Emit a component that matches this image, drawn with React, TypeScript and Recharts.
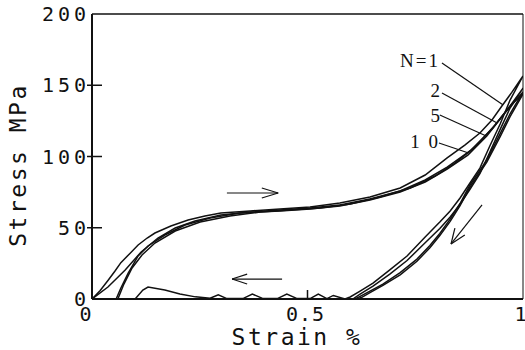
import React from 'react';
import { LineChart, Line, XAxis, YAxis, ReferenceLine } from 'recharts';

// loading branches (strain %, stress MPa)
const load1Strain = [0, 0.019, 0.037, 0.053, 0.067, 0.088, 0.107, 0.128, 0.146, 0.183, 0.223, 0.262, 0.299, 0.367, 0.436, 0.506, 0.575, 0.645, 0.715, 0.773, 0.824, 0.865, 0.9, 0.928, 0.951, 0.974, 1];
const load1Stress = [0, 6, 13, 19.5, 25.5, 32, 37.9, 42.8, 46.3, 51.2, 55.4, 58.2, 60.4, 61.8, 63.2, 64.6, 67.4, 71.6, 77.9, 87, 99, 108, 116.5, 125.6, 135.4, 145, 156.5];

const load2Strain = [0, 0.037, 0.077, 0.114, 0.153, 0.193, 0.239, 0.299, 0.367, 0.436, 0.506, 0.575, 0.645, 0.715, 0.773, 0.824, 0.877, 0.93, 0.97, 1];
const load2Stress = [0, 8.4, 20.4, 33, 42.8, 49.8, 54.7, 58.9, 61, 62.5, 63.9, 66, 70.2, 75.8, 83.5, 92.6, 103.9, 120, 135.4, 148];

const load5Strain = [0.056, 0.067, 0.084, 0.107, 0.13, 0.169, 0.216, 0.274, 0.343, 0.436, 0.506, 0.575, 0.645, 0.715, 0.773, 0.824, 0.872, 0.916, 0.958, 1];
const load5Stress = [0, 7.7, 18.2, 30.2, 37.2, 44.9, 51.9, 56.8, 60.4, 61.8, 63.2, 65.3, 69.5, 75.1, 82.1, 91.2, 101, 114.4, 130.5, 145.3];

const load10Strain = [0.06, 0.074, 0.093, 0.116, 0.146, 0.193, 0.251, 0.32, 0.39, 0.459, 0.529, 0.599, 0.668, 0.738, 0.796, 0.842, 0.889, 0.935, 0.974, 1];
const load10Stress = [0, 10.5, 21.8, 30.9, 39.3, 47.7, 54, 58.2, 61, 62.5, 63.9, 66.7, 71.6, 77.9, 86.3, 95.4, 106.7, 122.1, 136.8, 143.9];

// unloading branches
const unload1Strain = [1, 0.97, 0.947, 0.923, 0.9, 0.877, 0.854, 0.831, 0.807, 0.773, 0.731, 0.691, 0.652, 0.622, 0.599, 0.587, 0.56, 0.545, 0.525, 0.506, 0.476, 0.452, 0.43, 0.397, 0.372, 0.35, 0.313, 0.293, 0.274, 0.24, 0.204, 0.169, 0.13, 0.118, 0.1, 0];
const unload1Stress = [156.5, 139.6, 122.8, 107.4, 91.9, 81.4, 70.9, 61.8, 54, 43.5, 30.2, 20.4, 11.2, 5.6, 1.4, 0, 2.5, 0.3, 3.5, 0.3, 0.3, 3.5, 0.3, 0.3, 3.5, 0.3, 0.3, 3, 0.5, 1.5, 3.5, 6.3, 8.4, 6.3, 0, 0];

const unload2Strain = [1, 0.97, 0.947, 0.92, 0.9, 0.877, 0.854, 0.831, 0.807, 0.773, 0.731, 0.691, 0.652, 0.622, 0.605, 0];
const unload2Stress = [148, 134, 119, 101, 88, 77, 66.5, 57.5, 49.5, 39.5, 27, 17.5, 9, 3.5, 0, 0];

const unload5Strain = [1, 0.97, 0.947, 0.916, 0.877, 0.854, 0.831, 0.807, 0.784, 0.754, 0.715, 0.675, 0.645, 0.622, 0.61, 0.056];
const unload5Stress = [145.3, 130, 116, 97.5, 80, 67, 56, 46, 37.5, 28, 18.5, 10.5, 5.5, 1.8, 0, 0];

const unload10Strain = [1, 0.97, 0.947, 0.916, 0.877, 0.854, 0.831, 0.807, 0.784, 0.754, 0.715, 0.675, 0.645, 0.625, 0.615, 0.06];
const unload10Stress = [143.9, 128, 114, 96, 78.5, 65.5, 54.5, 44.5, 36, 26.5, 17, 9.5, 4.5, 1, 0, 0];

const xTicks = [0, 0.5, 1];
const yTicks = [0, 50, 100, 150, 200];

// annotation segments in data units
const leaders = [
  [{ x: 0.812, y: 165.6 }, { x: 0.954, y: 136.1 }],
  [{ x: 0.812, y: 144.6 }, { x: 0.94, y: 123.5 }],
  [{ x: 0.807, y: 129.1 }, { x: 0.916, y: 114.2 }],
  [{ x: 0.805, y: 109.5 }, { x: 0.872, y: 102.6 }],
];
const arrows = [
  [{ x: 0.313, y: 74.4 }, { x: 0.432, y: 74.4 }],
  [{ x: 0.394, y: 77.9 }, { x: 0.432, y: 74.4 }],
  [{ x: 0.394, y: 70.9 }, { x: 0.432, y: 74.4 }],
  [{ x: 0.441, y: 14 }, { x: 0.325, y: 14 }],
  [{ x: 0.36, y: 17.5 }, { x: 0.325, y: 14 }],
  [{ x: 0.36, y: 10.5 }, { x: 0.325, y: 14 }],
  [{ x: 0.905, y: 66 }, { x: 0.833, y: 38.6 }],
  [{ x: 0.842, y: 49.8 }, { x: 0.833, y: 38.6 }],
  [{ x: 0.865, y: 44.9 }, { x: 0.833, y: 38.6 }],
];

const zip = (xs: number[], ys: number[]) => xs.map((x, i) => ({ strain: x, stress: ys[i] }));

const cycles = [
  zip(load1Strain, load1Stress).concat(zip(unload1Strain, unload1Stress)),
  zip(load2Strain, load2Stress).concat(zip(unload2Strain, unload2Stress)),
  zip(load5Strain, load5Stress).concat(zip(unload5Strain, unload5Stress)),
  zip(load10Strain, load10Stress).concat(zip(unload10Strain, unload10Stress)),
];

const ink = '#111';
const mono = '"DejaVu Sans Mono", monospace';
const serif = '"Liberation Serif", "DejaVu Serif", serif';

function YTick({ x, y, payload }: any) {
  const v = payload.value;
  return (
    <g>
      {v > 0 && v < 200 && <line x1={x - 5} x2={x + 10} y1={y} y2={y} stroke={ink} strokeWidth={1.5} />}
      <text x={x - 2} y={y + 7} textAnchor="end" fontFamily={mono} fontSize={20} letterSpacing={4} fill={ink}>{v}</text>
    </g>
  );
}

function XTick({ x, y, payload }: any) {
  const v = payload.value;
  const dx = v === 0 ? -6 : v === 1 ? 0 : -2;
  return (
    <g>
      {v === 0.5 && <line x1={x} x2={x} y1={y} y2={y - 9} stroke={ink} strokeWidth={1.5} />}
      <text x={x + dx} y={y + 22} textAnchor="middle" fontFamily={mono} fontSize={20} letterSpacing={1} fill={ink}>{v}</text>
    </g>
  );
}

export default function App() {
  return (
    <div style={{ position: 'absolute', left: 0, top: 0, width: 525, height: 350, background: '#fff' }}>
      <LineChart width={525} height={350} margin={{ top: 14, right: 2, bottom: 0, left: 0 }}>
        <XAxis dataKey="strain" type="number" domain={[0, 1]} ticks={xTicks} tickSize={0} tickMargin={0}
          tick={<XTick />} axisLine={{ stroke: ink, strokeWidth: 2 }} height={51} allowDataOverflow />
        <YAxis type="number" domain={[0, 200]} ticks={yTicks} tickSize={0} tickMargin={0}
          tick={<YTick />} axisLine={{ stroke: ink, strokeWidth: 2 }} width={92} allowDataOverflow />
        <ReferenceLine y={200} stroke={ink} strokeWidth={1.5} />
        <ReferenceLine x={1} stroke={ink} strokeWidth={1} />
        {cycles.map((d, i) => (
          <Line key={i} data={d} dataKey="stress" type="linear" stroke={ink} strokeWidth={1.5}
            dot={false} isAnimationActive={false} />
        ))}
        {leaders.concat(arrows).map((s, i) => (
          <ReferenceLine key={'s' + i} segment={s} stroke={ink} strokeWidth={1.2} />
        ))}
      </LineChart>
      <svg width={525} height={350} style={{ position: 'absolute', left: 0, top: 0, pointerEvents: 'none' }}>
        <text transform="translate(26,165) rotate(-90)" textAnchor="middle" fontFamily={mono} fontSize={23} letterSpacing={2.5} fill={ink}>Stress MPa</text>
        <text x={297} y={345} textAnchor="middle" fontFamily={mono} fontSize={23} letterSpacing={2.5} fill={ink}>Strain %</text>
        <g fontFamily={serif} fontSize={19} fill={ink} textAnchor="end">
          <text x={440} y={67} letterSpacing={2}>N=1</text>
          <text x={440} y={97}>2</text>
          <text x={440} y={122}>5</text>
          <text x={440} y={148} letterSpacing={2}>1 0</text>
        </g>
      </svg>
    </div>
  );
}
